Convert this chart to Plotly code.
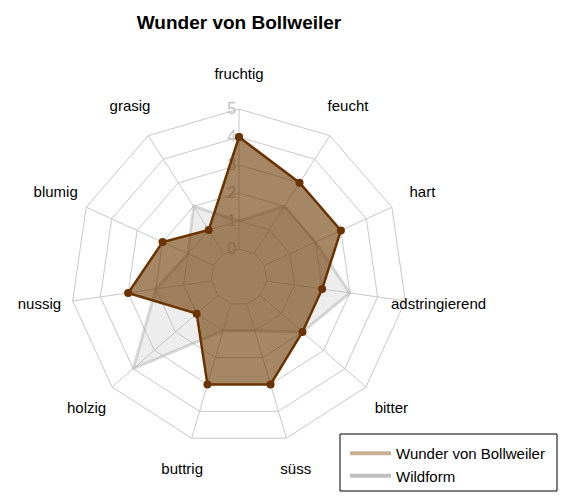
import plotly.graph_objects as go

categories = ["fruchtig", "feucht", "hart", "adstringierend", "bitter", "süss",
              "buttrig", "holzig", "nussig", "blumig", "grasig"]
wunder = [4, 3, 3, 2, 2, 3, 3, 1, 3, 2, 1]
wildform = [1, 2, 2, 3, 2, 1, 1, 4, 2, 1, 2]
radial_ticks = [0, 1, 2, 3, 4, 5]
label_r = 6.2
r_min = -1

FONT = "Liberation Sans, Arial, sans-serif"
GRID = "#C8C8C8"

cat_closed = categories + categories[:1]

fig = go.Figure()

# spokes from level 0 to level 5
spoke_r, spoke_t = [], []
for c in categories:
    spoke_r += [radial_ticks[0], radial_ticks[-1], None]
    spoke_t += [c, c, c]
fig.add_trace(go.Scatterpolar(
    r=spoke_r, theta=spoke_t, mode="lines",
    line=dict(color=GRID, width=1), showlegend=False, hoverinfo="skip"))

fig.add_trace(go.Scatterpolar(
    r=wildform + wildform[:1], theta=cat_closed, mode="lines",
    fill="toself", fillcolor="rgba(190,190,190,0.28)",
    line=dict(color="rgba(170,170,170,0.45)", width=3),
    showlegend=False, hoverinfo="skip"))

fig.add_trace(go.Scatterpolar(
    r=wunder + wunder[:1], theta=cat_closed, mode="lines+markers",
    fill="toself", fillcolor="rgba(105,55,0,0.6)",
    line=dict(color="#6B3300", width=2.5),
    marker=dict(color="#6B3300", size=8),
    showlegend=False, hoverinfo="skip"))

# category labels placed outside the web
fig.add_trace(go.Scatterpolar(
    r=[label_r] * len(categories), theta=categories, mode="text",
    text=categories, textposition="middle center",
    textfont=dict(family=FONT, size=15, color="black"),
    cliponaxis=False, showlegend=False, hoverinfo="skip"))

# legend-only entries
fig.add_trace(go.Scatterpolar(
    r=[None], theta=[categories[0]], mode="lines", name="Wunder von Bollweiler",
    line=dict(color="#C6AF94", width=4)))
fig.add_trace(go.Scatterpolar(
    r=[None], theta=[categories[0]], mode="lines", name="Wildform",
    line=dict(color="#BEBEBE", width=4)))

W, H = 569, 504
OFF = 8  # page body margin
cx, cy = 239 - OFF, 277 - OFF
unit_px = 28
R = (label_r - r_min) * unit_px

fig.update_layout(
    width=W, height=H,
    margin=dict(l=0, r=0, t=0, b=0),
    paper_bgcolor="white", plot_bgcolor="white",
    title=dict(text="<b>Wunder von Bollweiler</b>", x=cx / W, xanchor="center",
               y=1 - (22 - OFF) / H, yanchor="middle",
               font=dict(family=FONT, size=19, color="black")),
    font=dict(family=FONT),
    polar=dict(
        domain=dict(x=[(cx - R) / W, (cx + R) / W],
                    y=[(H - cy - R) / H, (H - cy + R) / H]),
        bgcolor="rgba(0,0,0,0)",
        gridshape="linear",
        radialaxis=dict(
            range=[r_min, label_r], tickvals=radial_ticks,
            ticktext=["%d" % t for t in radial_ticks],
            showticklabels=True, angle=90, tickangle=90, side="counterclockwise",
            showline=False, ticks="", layer="below traces",
            tickfont=dict(family=FONT, size=16, color="#BEBEBE"),
            gridcolor=GRID, gridwidth=1,
        ),
        angularaxis=dict(
            rotation=90, direction="clockwise",
            categoryorder="array", categoryarray=categories,
            showticklabels=False, ticks="", showline=False, showgrid=False,
        ),
    ),
    legend=dict(
        x=(345 - OFF) / W, y=1 - (437 - OFF) / H, xanchor="left", yanchor="top",
        borderwidth=0, bgcolor="rgba(0,0,0,0)",
        font=dict(family=FONT, size=15, color="black"),
        tracegroupgap=0, itemwidth=41,
    ),
    shapes=[dict(type="rect", xref="paper", yref="paper",
                 x0=(340 - OFF) / W, x1=(557 - OFF) / W,
                 y0=1 - (491 - OFF) / H, y1=1 - (434 - OFF) / H,
                 line=dict(color="black", width=1), fillcolor="rgba(0,0,0,0)")],
)

fig.write_html("out.html")
